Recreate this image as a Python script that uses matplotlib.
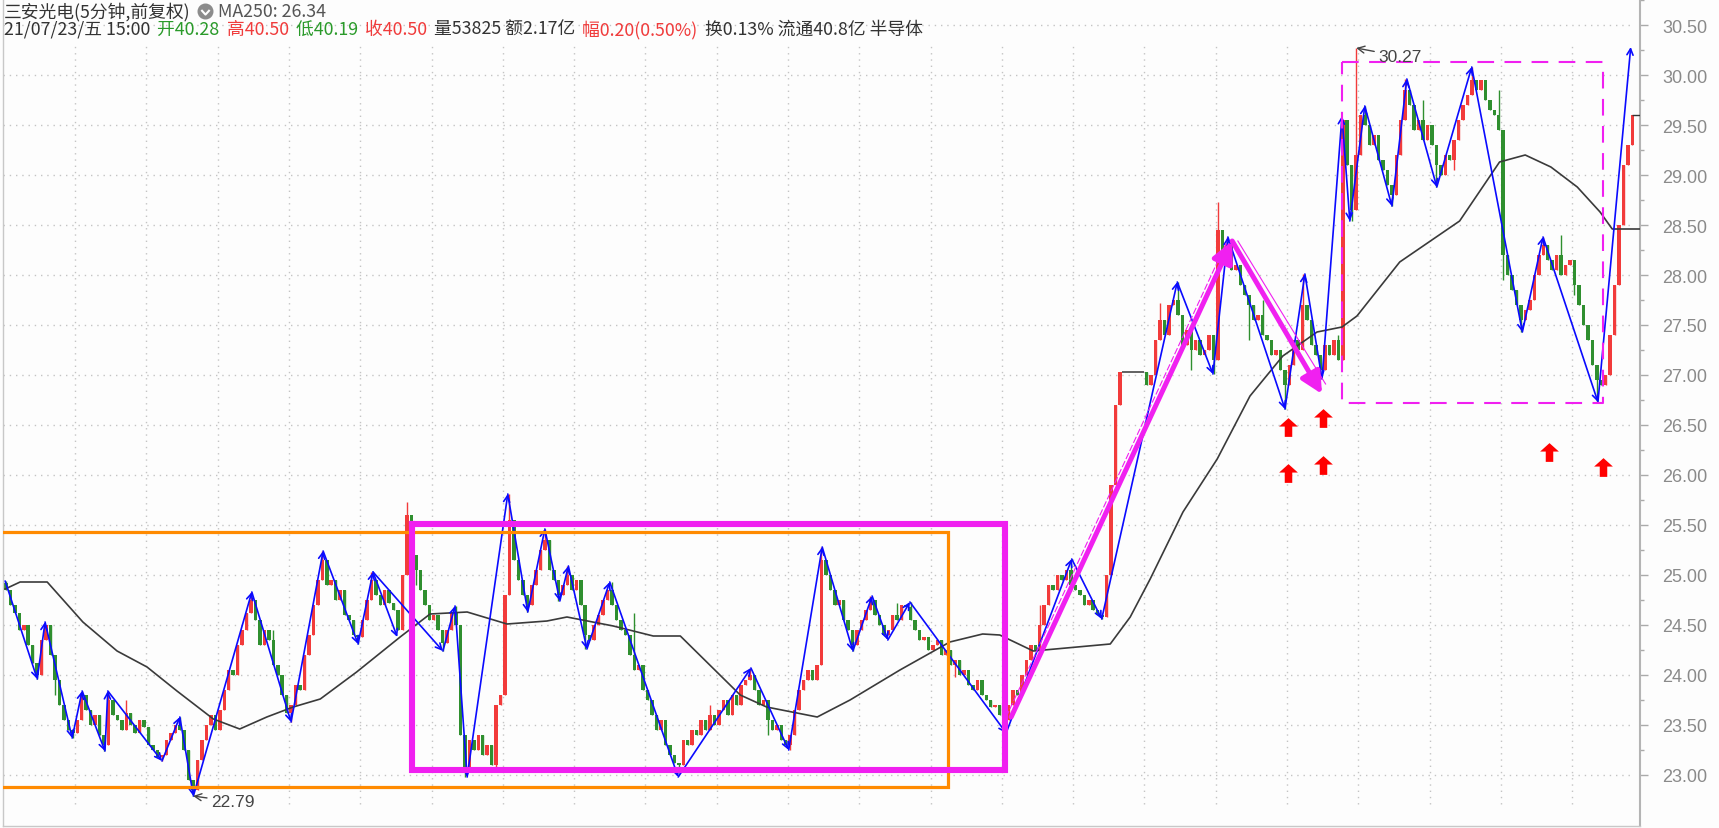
import matplotlib
matplotlib.use("Agg")
import matplotlib.pyplot as plt
from matplotlib.path import Path
from matplotlib.lines import Line2D

W, H = 1719, 829
BARS_PER_DAY = 16
CJK = ["Noto Sans CJK SC", "DejaVu Sans"]

# ---- price data (5-minute bars, compressed to 16 bars per trading day) ----
first_open = 24.92
closes = [
    24.85, 24.70, 24.62, 24.45, 24.50, 24.30, 24.12, 24.00, 24.35, 24.50, 24.20, 23.95, 23.70, 23.55, 23.45, 23.42,
    23.55, 23.80, 23.65, 23.50, 23.60, 23.40, 23.30, 23.75, 23.60, 23.55, 23.45, 23.62, 23.50, 23.42, 23.55, 23.48,
    23.30, 23.25, 23.18, 23.20, 23.35, 23.42, 23.50, 23.45, 23.25, 22.95, 22.85, 23.15, 23.35, 23.50, 23.60, 23.45,
    23.65, 23.85, 24.05, 24.00, 24.30, 24.45, 24.62, 24.75, 24.55, 24.30, 24.45, 24.35, 24.10, 24.00, 23.80, 23.62,
    23.70, 23.90, 23.85, 24.20, 24.40, 24.70, 24.95, 25.15, 24.90, 24.95, 24.75, 24.85, 24.60, 24.55, 24.40, 24.38,
    24.55, 24.75, 24.95, 24.80, 24.70, 24.85, 24.72, 24.65, 24.45, 25.00, 25.60, 25.20, 25.05, 24.85, 24.70, 24.55,
    24.60, 24.45, 24.32, 24.45, 24.62, 24.50, 23.40, 23.05, 23.35, 23.25, 23.40, 23.20, 23.30, 23.10, 23.70, 23.80,
    24.80, 25.55, 25.15, 24.95, 24.80, 24.70, 24.90, 25.05, 25.25, 25.35, 25.05, 24.95, 24.80, 24.90, 25.00, 24.85,
    24.95, 24.70, 24.40, 24.35, 24.50, 24.60, 24.75, 24.85, 24.70, 24.55, 24.45, 24.40, 24.20, 24.05, 24.10, 23.85,
    23.75, 23.60, 23.45, 23.55, 23.30, 23.20, 23.12, 23.10, 23.35, 23.30, 23.45, 23.40, 23.55, 23.45, 23.60, 23.50,
    23.65, 23.75, 23.60, 23.80, 23.70, 23.90, 23.95, 24.00, 23.85, 23.70, 23.75, 23.55, 23.45, 23.50, 23.35, 23.30,
    23.40, 23.65, 23.85, 23.95, 24.05, 23.95, 24.10, 25.15, 25.00, 24.85, 24.70, 24.75, 24.55, 24.45, 24.30, 24.45,
    24.55, 24.65, 24.75, 24.60, 24.50, 24.40, 24.45, 24.60, 24.55, 24.70, 24.68, 24.55, 24.45, 24.35, 24.38, 24.25,
    24.30, 24.35, 24.20, 24.25, 24.10, 24.15, 24.00, 24.05, 23.90, 23.85, 23.95, 23.80, 23.75, 23.68, 23.70, 23.60,
    23.55, 23.70, 23.85, 23.80, 24.00, 24.15, 24.30, 24.25, 24.50, 24.70, 24.90, 24.85, 25.00, 24.95, 25.05, 24.90,
    24.85, 24.80, 24.70, 24.75, 24.65, 24.60, 24.58, 25.00, 25.90, 26.70, 27.03, 27.03, 27.03, 27.03, 27.03, 27.03,
    26.90, 27.00, 27.35, 27.55, 27.40, 27.70, 27.75, 27.60, 27.30, 27.45, 27.25, 27.35, 27.20, 27.25, 27.40, 27.15,
    28.45, 28.20, 28.30, 28.05, 28.10, 27.90, 27.80, 27.70, 27.55, 27.60, 27.40, 27.35, 27.20, 27.25, 27.05, 26.90,
    27.10, 27.35, 27.25, 27.70, 27.55, 27.30, 27.20, 27.05, 27.30, 27.20, 27.35, 27.15, 29.55, 29.10, 28.65, 29.20,
    29.60, 29.50, 29.30, 29.40, 29.15, 29.05, 28.90, 28.80, 29.20, 29.55, 29.85, 29.70, 29.45, 29.55, 29.35, 29.50,
    29.30, 29.10, 29.00, 29.20, 29.15, 29.35, 29.55, 29.70, 29.80, 29.95, 29.85, 29.95, 29.75, 29.65, 29.60, 29.45,
    28.20, 28.00, 27.85, 27.70, 27.55, 27.65, 27.75, 28.00, 28.20, 28.30, 28.15, 28.05, 28.20, 28.00, 28.10, 28.15,
    27.90, 27.70, 27.50, 27.35, 27.10, 26.95, 26.90, 27.00, 27.40, 27.90, 28.50, 29.10, 29.30, 29.60,
]
# wick extremes that reach beyond the bodies (bar index -> price)
wick_high = {0: 24.94, 17: 23.84, 23: 23.84, 39: 23.58, 55: 24.83, 71: 25.24, 82: 25.03, 90: 25.73,
             101: 24.69, 113: 25.81, 121: 25.46, 126: 25.09, 136: 24.93, 167: 24.07, 183: 25.28,
             194: 24.79, 203: 24.73, 239: 25.16, 263: 27.93, 272: 28.73, 274: 28.38, 291: 28.01,
             303: 30.27, 305: 29.69, 314: 29.96, 329: 30.08, 345: 28.38,
             27: 23.75, 60: 24.45, 86: 24.85, 141: 24.62, 158: 23.70, 200: 24.72, 232: 24.70,
             259: 27.72, 282: 27.75, 299: 27.40, 318: 29.75, 335: 29.85, 349: 28.40}
wick_low = {7: 23.96, 15: 23.37, 22: 23.24, 35: 23.14, 42: 22.79, 64: 23.53, 79: 24.31, 98: 24.24,
            103: 22.98, 117: 24.63, 124: 24.74, 130: 24.26, 151: 23.02, 176: 23.25, 190: 24.24,
            224: 23.42, 246: 24.56, 271: 27.01, 287: 26.66, 295: 26.96, 302: 28.54, 311: 28.69,
            321: 28.88, 340: 27.43, 357: 26.73,
            11: 23.80, 50: 23.90, 92: 24.90, 110: 23.05, 145: 23.95, 171: 23.40, 213: 23.98,
            266: 27.05, 279: 27.35, 325: 29.05, 336: 27.95, 352: 27.80}

# MA250 (time in trading days, value)
ma_t = [0.02, 0.23, 0.61, 1.11, 1.59, 2.01, 2.43, 2.94, 3.31, 3.69, 4.06, 4.44, 4.95, 5.56, 5.98,
        6.50, 7.06, 7.62, 7.90, 8.55, 9.11, 9.49, 10.33, 10.70, 11.41, 11.87, 12.57, 13.27, 13.73,
        13.97, 14.44, 15.52, 15.80, 16.08, 16.54, 17.02, 17.48, 17.94, 18.42, 18.77, 18.98, 19.58,
        20.42, 20.98, 21.34, 21.70, 22.07, 22.39, 22.56, 22.95]
ma_v = [24.86, 24.93, 24.93, 24.53, 24.24, 24.08, 23.84, 23.56, 23.46, 23.58, 23.68, 23.76, 24.03,
        24.38, 24.61, 24.63, 24.51, 24.54, 24.58, 24.49, 24.39, 24.39, 23.80, 23.68, 23.58, 23.75,
        24.05, 24.33, 24.41, 24.40, 24.24, 24.31, 24.58, 24.96, 25.63, 26.16, 26.79, 27.19, 27.43,
        27.48, 27.59, 28.13, 28.54, 29.13, 29.20, 29.08, 28.88, 28.63, 28.46, 28.46]

# zigzag strokes (blue)
zig_t = [0.02, 0.47, 0.58, 0.96, 1.10, 1.42, 1.46, 2.22, 2.47, 2.66, 3.48, 4.03, 4.48, 4.97, 5.18,
         6.16, 6.33, 6.50, 7.07, 7.35, 7.59, 7.80, 7.92, 8.18, 8.50, 9.46, 10.48, 11.01, 11.48,
         11.91, 12.18, 12.40, 12.71, 14.06, 14.98, 15.40, 16.46, 16.96, 17.17, 17.97, 18.25, 18.49,
         18.77, 18.88, 19.09, 19.47, 19.68, 20.10, 20.59, 21.30, 21.59, 22.36, 22.82]
zig_v = [24.94, 23.96, 24.53, 23.37, 23.84, 23.24, 23.84, 23.14, 23.58, 22.79, 24.83, 23.53, 25.24,
         24.31, 25.03, 24.24, 24.69, 22.98, 25.81, 24.63, 25.46, 24.74, 25.09, 24.26, 24.93, 22.98,
         24.07, 23.25, 25.28, 24.24, 24.79, 24.35, 24.73, 23.42, 25.16, 24.56, 27.93, 27.01, 28.38,
         26.66, 28.01, 26.96, 29.59, 28.54, 29.69, 28.69, 29.96, 28.88, 30.08, 27.43, 28.38, 26.73,
         30.28]
zig_extra = [(5.18, 25.03), (5.52, 24.38)]

# drawn-on annotations
orange_box = (-0.01, 13.24, 22.88, 25.43)      # t0, t1, low, high
pink_box = (5.73, 14.04, 23.055, 25.515)
dash_box = (18.77, 22.43, 26.72, 30.13)
trend_t = [14.13, 17.23, 18.49]
trend_v = [23.58, 28.34, 26.81]
signal_t = [18.01, 18.01, 18.50, 18.50, 21.67, 22.43]
signal_v = [26.48, 26.02, 26.57, 26.10, 26.23, 26.08]

price_ticks = [23.0 + 0.5 * k for k in range(16)]
day_lines = list(range(1, 23))

header1 = "三安光电(5分钟,前复权)"
ma_label = "MA250: 26.34"
header2 = [("21/07/23/五 15:00 ", "#333333"), ("开40.28 ", "#2a9a2a"), ("高40.50 ", "#f03c3c"),
           ("低40.19 ", "#2a9a2a"), ("收40.50 ", "#f03c3c"), ("量53825 额2.17亿 ", "#333333"),
           ("幅0.20(0.50%) ", "#f03c3c"), ("换0.13% 流通40.8亿 半导体", "#333333")]

UP, DOWN, FLAT = "#f23b3b", "#2f8f2f", "#555555"
PINK = "#f020f0"

fig = plt.figure(figsize=(W / 100, H / 100), dpi=100)
fig.patch.set_facecolor("#fdfdfd")
ax = fig.add_axes([3 / W, 2 / H, 1637 / W, 827 / H])
ax.set_facecolor("#fdfdfd")
ax.set_xlim(-0.01, 22.95)
ax.set_ylim(22.49, 30.76)

# grid
ax.hlines(price_ticks, -0.01, 22.85, colors="#c4c4c4", linestyles=(0, (1, 3.5)), lw=1, zorder=0)
ax.vlines(day_lines, 22.71, 30.32, colors="#c4c4c4", linestyles=(0, (1, 3.5)), lw=1, zorder=0)

# candles
n = len(closes)
tt = [(i + 0.5) / BARS_PER_DAY for i in range(n)]
opens = [first_open] + closes[:-1]
bw = 0.78 / BARS_PER_DAY
for i in range(n):
    o, c = opens[i], closes[i]
    hi = max(o, c, wick_high.get(i, 0))
    lo = min(o, c, wick_low.get(i, 99))
    if c == o:
        ax.hlines(c, tt[i] - 0.5 / BARS_PER_DAY, tt[i] + 0.5 / BARS_PER_DAY, colors=FLAT, lw=1.3, zorder=2)
        continue
    col = UP if c > o else DOWN
    ax.vlines(tt[i], lo, hi, colors=col, lw=1, zorder=2)
    ax.bar(tt[i], abs(c - o), bottom=min(o, c), width=bw, color=col, lw=0, zorder=2)

# last price line
ax.hlines(closes[-1], tt[-1], 22.95, colors="#333333", lw=1, zorder=3)

# moving average
ax.plot(ma_t, ma_v, color="#3a3a3a", lw=1.2, zorder=3)

# zigzag with arrow heads
arrow_kw = dict(arrowstyle="->", color="#0a0aff", lw=1.2, shrinkA=0, shrinkB=0, mutation_scale=11)
for k in range(1, len(zig_t)):
    ax.annotate("", xy=(zig_t[k], zig_v[k]), xytext=(zig_t[k - 1], zig_v[k - 1]),
                arrowprops=arrow_kw, zorder=4)
ax.annotate("", xy=zig_extra[1], xytext=zig_extra[0], arrowprops=arrow_kw, zorder=4)

# boxes
t0, t1, lo, hi = orange_box
ax.plot([t0, t1, t1, t0], [hi, hi, lo, lo], color="#ff8a00", lw=2.3, zorder=5, solid_joinstyle="miter")
t0, t1, lo, hi = pink_box
ax.plot([t0, t1, t1, t0, t0], [hi, hi, lo, lo, hi], color=PINK, lw=4.4, zorder=5, solid_joinstyle="miter")
t0, t1, lo, hi = dash_box
ax.plot([t0, t1, t1, t0, t0], [hi, hi, lo, lo, hi], color=PINK, lw=1.5, zorder=5,
        linestyle=(0, (8, 5)))

# thick trend arrows
for k in range(1, len(trend_t)):
    ax.annotate("", xy=(trend_t[k], trend_v[k]), xytext=(trend_t[k - 1], trend_v[k - 1]),
                arrowprops=dict(arrowstyle="-|>,head_length=0.8,head_width=0.4", color=PINK, lw=3.6,
                                shrinkA=0, shrinkB=0, mutation_scale=16), zorder=6)
ax.plot([trend_t[0] - 0.07, trend_t[1] - 0.07], [trend_v[0], trend_v[1]], color=PINK, lw=0.8,
        linestyle=(0, (6, 2)), zorder=6)
ax.plot([trend_t[1] + 0.08, trend_t[2] + 0.05], [trend_v[1], trend_v[2] + 0.1], color=PINK, lw=0.8, zorder=6)

# red signal arrows
up_arrow = Path([(-0.5, 0.05), (0, 0.5), (0.5, 0.05), (0.2, 0.05), (0.2, -0.5), (-0.2, -0.5),
                 (-0.2, 0.05), (-0.5, 0.05)], closed=True)
ax.plot(signal_t, signal_v, linestyle="none", marker=up_arrow, markersize=13.5, color="#ff0000",
        markeredgewidth=0, zorder=6)

# extreme price labels
highs = [max(opens[i], closes[i], wick_high.get(i, 0)) for i in range(n)]
lows = [min(opens[i], closes[i], wick_low.get(i, 99)) for i in range(n)]
ih = highs.index(max(highs))
il = lows.index(min(lows))
lab_kw = dict(textcoords="offset points", va="center", ha="left", fontsize=12.5, color="#444444",
              family="Liberation Sans", zorder=7)
ax.annotate(f"{lows[il]:.2f}", xy=(tt[il], lows[il]), xytext=(13, -4),
            arrowprops=dict(arrowstyle="->", color="#444444", lw=1, shrinkA=1, shrinkB=0), **lab_kw)
ax.annotate(f"{highs[ih]:.2f}", xy=(tt[ih], highs[ih]), xytext=(16, -6),
            arrowprops=dict(arrowstyle="->", color="#444444", lw=1, shrinkA=1, shrinkB=0), **lab_kw)

# axes styling
ax.yaxis.tick_right()
ax.set_yticks(price_ticks)
ax.set_yticklabels([f"{v:.2f}" for v in price_ticks], family="Liberation Sans", fontsize=13, color="#8a8a8a")
ax.set_yticks([v + 0.25 for v in price_ticks], minor=True)
ax.tick_params(axis="y", which="major", direction="out", length=6, width=1, color="#aaaaaa", pad=10)
ax.tick_params(axis="y", which="minor", direction="out", length=3, width=1, color="#aaaaaa")
ax.set_xticks([])
ax.spines["top"].set_visible(False)
ax.spines["right"].set_color("#b4b4b4")
ax.spines["right"].set_linewidth(1.5)
for s in ("left", "bottom"):
    ax.spines[s].set_color("#c8c8c8")
    ax.spines[s].set_linewidth(1)

# header
r = fig.canvas.get_renderer()
t1txt = fig.text(4 / W, 1 - 12 / H, header1, family=CJK, fontsize=12.8, color="#333333", va="center")
x = t1txt.get_window_extent(renderer=r).x1 + 14
fig.add_artist(Line2D([x / W], [1 - 12 / H], transform=fig.transFigure, marker="o", markersize=10.5,
                      color="#8c8c8c", linestyle="none"))
fig.add_artist(Line2D([x / W], [1 - 12.5 / H], transform=fig.transFigure,
                      marker=Path([(-0.5, 0.3), (0, -0.25), (0.5, 0.3)]), markersize=6,
                      markerfacecolor="none", markeredgecolor="white", markeredgewidth=1.5,
                      linestyle="none"))
fig.text((x + 13) / W, 1 - 12 / H, ma_label, family=CJK, fontsize=12.8, color="#555555", va="center")

x = 4
for s, c in header2:
    tx = fig.text(x / W, 1 - 30 / H, s, family=CJK, fontsize=12.8, color=c, va="center")
    x = tx.get_window_extent(renderer=r).x1 + 3

fig.savefig("out.png", dpi=100, facecolor=fig.get_facecolor())
